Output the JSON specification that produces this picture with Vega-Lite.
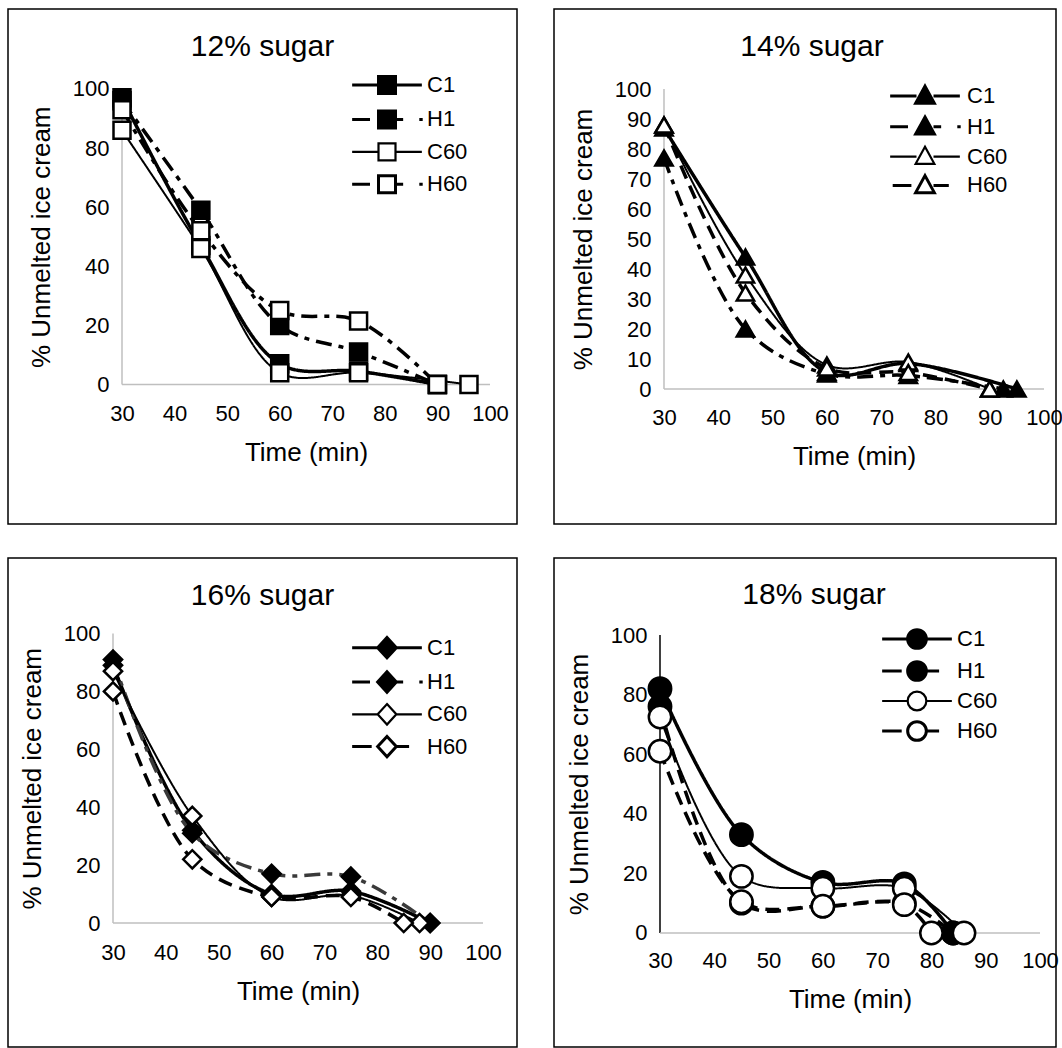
{
  "$schema": "https://vega.github.io/schema/vega-lite/v6.json",
  "padding": {"left": 7, "top": 8, "right": 0, "bottom": 0},
  "background": "white",
  "config": {
    "view": {"stroke": "black", "strokeWidth": 1.5},
    "font": "Liberation Sans",
    "axis": {"labelFont": "Liberation Sans", "titleFont": "Liberation Sans", "labelColor": "black", "titleColor": "black", "titleFontWeight": "normal", "labelFontSize": 22, "titleFontSize": 26, "domain": false, "ticks": false, "grid": false, "labelFlush": false, "labelOverlap": false},
    "legend": {"labelFont": "Liberation Sans", "labelFontSize": 22, "labelColor": "black", "padding": 0, "symbolSize": 289, "symbolStrokeWidth": 3, "symbolStrokeColor": "black"},
    "title": {"font": "Liberation Sans", "fontSize": 30, "fontWeight": "normal", "color": "black"}
  },
  "resolve": {"scale": {"fill": "independent"}, "legend": {"fill": "independent"}},
  "data": {"values": [
    {"panel": "12", "series": "C1", "time": 30, "pct": 97},
    {"panel": "12", "series": "C1", "time": 45, "pct": 47},
    {"panel": "12", "series": "C1", "time": 60, "pct": 7},
    {"panel": "12", "series": "C1", "time": 75, "pct": 4.5},
    {"panel": "12", "series": "C1", "time": 90, "pct": 0},
    {"panel": "12", "series": "H1", "time": 30, "pct": 96},
    {"panel": "12", "series": "H1", "time": 45, "pct": 59},
    {"panel": "12", "series": "H1", "time": 60, "pct": 20},
    {"panel": "12", "series": "H1", "time": 75, "pct": 11},
    {"panel": "12", "series": "H1", "time": 90, "pct": 0},
    {"panel": "12", "series": "C60", "time": 30, "pct": 86},
    {"panel": "12", "series": "C60", "time": 45, "pct": 46},
    {"panel": "12", "series": "C60", "time": 60, "pct": 4},
    {"panel": "12", "series": "C60", "time": 75, "pct": 4},
    {"panel": "12", "series": "C60", "time": 96, "pct": 0},
    {"panel": "12", "series": "H60", "time": 30, "pct": 93},
    {"panel": "12", "series": "H60", "time": 45, "pct": 52},
    {"panel": "12", "series": "H60", "time": 60, "pct": 25},
    {"panel": "12", "series": "H60", "time": 75, "pct": 21.5},
    {"panel": "12", "series": "H60", "time": 90, "pct": 0},

    {"panel": "14", "series": "C1", "time": 30, "pct": 87},
    {"panel": "14", "series": "C1", "time": 45, "pct": 44},
    {"panel": "14", "series": "C1", "time": 60, "pct": 5.5},
    {"panel": "14", "series": "C1", "time": 75, "pct": 8.5},
    {"panel": "14", "series": "C1", "time": 95, "pct": 0},
    {"panel": "14", "series": "H1", "time": 30, "pct": 77},
    {"panel": "14", "series": "H1", "time": 45, "pct": 20},
    {"panel": "14", "series": "H1", "time": 60, "pct": 5},
    {"panel": "14", "series": "H1", "time": 75, "pct": 4.5},
    {"panel": "14", "series": "H1", "time": 92.5, "pct": 0},
    {"panel": "14", "series": "C60", "time": 30, "pct": 88},
    {"panel": "14", "series": "C60", "time": 45, "pct": 38},
    {"panel": "14", "series": "C60", "time": 60, "pct": 8},
    {"panel": "14", "series": "C60", "time": 75, "pct": 9},
    {"panel": "14", "series": "C60", "time": 90, "pct": 0},
    {"panel": "14", "series": "H60", "time": 30, "pct": 88},
    {"panel": "14", "series": "H60", "time": 45, "pct": 32},
    {"panel": "14", "series": "H60", "time": 60, "pct": 7},
    {"panel": "14", "series": "H60", "time": 75, "pct": 5.5},
    {"panel": "14", "series": "H60", "time": 90, "pct": 0},

    {"panel": "16", "series": "C1", "time": 30, "pct": 89},
    {"panel": "16", "series": "C1", "time": 45, "pct": 32},
    {"panel": "16", "series": "C1", "time": 60, "pct": 10},
    {"panel": "16", "series": "C1", "time": 75, "pct": 11},
    {"panel": "16", "series": "C1", "time": 90, "pct": 0},
    {"panel": "16", "series": "H1", "time": 30, "pct": 91},
    {"panel": "16", "series": "H1", "time": 45, "pct": 31},
    {"panel": "16", "series": "H1", "time": 60, "pct": 17},
    {"panel": "16", "series": "H1", "time": 75, "pct": 16},
    {"panel": "16", "series": "H1", "time": 90, "pct": 0},
    {"panel": "16", "series": "C60", "time": 30, "pct": 87},
    {"panel": "16", "series": "C60", "time": 45, "pct": 37},
    {"panel": "16", "series": "C60", "time": 60, "pct": 9},
    {"panel": "16", "series": "C60", "time": 75, "pct": 9.5},
    {"panel": "16", "series": "C60", "time": 88, "pct": 0},
    {"panel": "16", "series": "H60", "time": 30, "pct": 80},
    {"panel": "16", "series": "H60", "time": 45, "pct": 22},
    {"panel": "16", "series": "H60", "time": 60, "pct": 9},
    {"panel": "16", "series": "H60", "time": 75, "pct": 9},
    {"panel": "16", "series": "H60", "time": 85, "pct": 0},

    {"panel": "18", "series": "C1", "time": 30, "pct": 82},
    {"panel": "18", "series": "C1", "time": 45, "pct": 33},
    {"panel": "18", "series": "C1", "time": 60, "pct": 17},
    {"panel": "18", "series": "C1", "time": 75, "pct": 16.5},
    {"panel": "18", "series": "C1", "time": 84, "pct": 0},
    {"panel": "18", "series": "H1", "time": 30, "pct": 76},
    {"panel": "18", "series": "H1", "time": 45, "pct": 10},
    {"panel": "18", "series": "H1", "time": 60, "pct": 9},
    {"panel": "18", "series": "H1", "time": 75, "pct": 10},
    {"panel": "18", "series": "H1", "time": 84, "pct": 0},
    {"panel": "18", "series": "C60", "time": 30, "pct": 72.5},
    {"panel": "18", "series": "C60", "time": 45, "pct": 19},
    {"panel": "18", "series": "C60", "time": 60, "pct": 15},
    {"panel": "18", "series": "C60", "time": 75, "pct": 15},
    {"panel": "18", "series": "C60", "time": 86, "pct": 0},
    {"panel": "18", "series": "H60", "time": 30, "pct": 61},
    {"panel": "18", "series": "H60", "time": 45, "pct": 10.5},
    {"panel": "18", "series": "H60", "time": 60, "pct": 9},
    {"panel": "18", "series": "H60", "time": 75, "pct": 9.5},
    {"panel": "18", "series": "H60", "time": 80, "pct": 0}
  ]},
  "columns": 2,
  "spacing": {"row": 34, "column": 37},
  "bounds": "flush",
  "concat": [
    {
      "width": 509, "height": 515,
      "title": {"text": "12% sugar", "anchor": "middle", "frame": "group", "offset": -76.5, "baseline": "alphabetic"},
      "transform": [{"filter": "datum.panel == '12'"}],
      "layer": [
        {"data": {"values": [{}]}, "mark": {"type": "rule", "color": "#bfbfbf", "strokeWidth": 1.5},
         "encoding": {"x": {"datum": 30, "type": "quantitative"}, "y": {"datum": 0, "type": "quantitative"}, "y2": {"datum": 100}}},
        {"data": {"values": [{}]}, "mark": {"type": "rule", "color": "#bfbfbf", "strokeWidth": 1.5},
         "encoding": {"x": {"datum": 30, "type": "quantitative"}, "x2": {"datum": 100}, "y": {"datum": 0, "type": "quantitative"}}},
        {"mark": {"type": "line", "interpolate": "catmull-rom", "color": "black"},
         "encoding": {
           "x": {"field": "time", "type": "quantitative", "scale": {"domain": [8.315, 105.136], "nice": false, "zero": false},
                 "axis": {"values": [30, 40, 50, 60, 70, 80, 90, 100], "offset": -139.5, "labelPadding": 19, "title": "Time (min)", "titlePadding": 15, "titleX": 298}},
           "y": {"field": "pct", "type": "quantitative", "scale": {"domain": [-47.21, 127.07], "nice": false, "zero": false},
                 "axis": {"values": [0, 20, 40, 60, 80, 100], "offset": -114, "labelPadding": 13, "title": "% Unmelted ice cream", "titlePadding": 18, "titleY": 227.75}},
           "detail": {"field": "series"},
           "strokeDash": {"condition": {"test": "datum.series == 'H1' || datum.series == 'H60'", "value": [16, 7, 5, 7]}, "value": [1, 0]},
           "strokeWidth": {"condition": {"test": "datum.series == 'C60'", "value": 2}, "value": 3.5}
         }},
        {"mark": {"type": "point", "shape": "square", "size": 289, "stroke": "black", "strokeWidth": 2.5, "opacity": 1, "filled": true},
         "encoding": {
           "x": {"field": "time", "type": "quantitative"},
           "y": {"field": "pct", "type": "quantitative"},
           "fill": {"field": "series", "type": "nominal",
                    "scale": {"domain": ["C1", "H1", "C60", "H60"], "range": ["black", "black", "white", "white"]},
                    "legend": {"title": null, "orient": "none", "legendX": 368, "legendY": 65, "labelOffset": 29, "rowPadding": 4.4, "labelFontSize": 22, "symbolSize": 289,
                               "symbolType": {"expr": "(datum.value == 'C1' || datum.value == 'C60' ? 'M-4.1,0H-1M1,0H4.1' : 'M-4.1,0H-2M1,0H1.9M3.8,0H4.2') + 'M-1,-1H1V1H-1Z'"},
                               "symbolStrokeWidth": {"expr": "datum.value == 'C60' ? 2.2 : 3"}}}
         }}
      ]
    },
    {
      "width": 502, "height": 515,
      "title": {"text": "14% sugar", "anchor": "middle", "frame": "group", "offset": -76.5, "baseline": "alphabetic", "dx": 7},
      "transform": [{"filter": "datum.panel == '14'"}],
      "layer": [
        {"data": {"values": [{}]}, "mark": {"type": "rule", "color": "#bfbfbf", "strokeWidth": 1.5},
         "encoding": {"x": {"datum": 30, "type": "quantitative"}, "y": {"datum": 0, "type": "quantitative"}, "y2": {"datum": 100}}},
        {"data": {"values": [{}]}, "mark": {"type": "rule", "color": "#bfbfbf", "strokeWidth": 1.5},
         "encoding": {"x": {"datum": 30, "type": "quantitative"}, "x2": {"datum": 100}, "y": {"datum": 0, "type": "quantitative"}}},
        {"mark": {"type": "line", "interpolate": "catmull-rom", "color": "black"},
         "encoding": {
           "x": {"field": "time", "type": "quantitative", "scale": {"domain": [9.737, 102.211], "nice": false, "zero": false},
                 "axis": {"values": [30, 40, 50, 60, 70, 80, 90, 100], "offset": -135, "labelPadding": 18, "title": "Time (min)", "titlePadding": 15, "titleX": 300}},
           "y": {"field": "pct", "type": "quantitative", "scale": {"domain": [-45, 126.667], "nice": false, "zero": false},
                 "axis": {"values": [0, 10, 20, 30, 40, 50, 60, 70, 80, 90, 100], "offset": -110, "labelPadding": 13, "title": "% Unmelted ice cream", "titlePadding": 18, "titleY": 230}},
           "detail": {"field": "series"},
           "strokeDash": {"condition": [{"test": "datum.series == 'H1'", "value": [16, 7, 5, 7]}, {"test": "datum.series == 'H60'", "value": [14, 8]}], "value": [1, 0]},
           "strokeWidth": {"condition": {"test": "datum.series == 'C60'", "value": 2}, "value": 3.5}
         }},
        {"mark": {"type": "point", "shape": "triangle-up", "size": 300, "stroke": "black", "strokeWidth": 2.5, "opacity": 1, "filled": true},
         "encoding": {
           "x": {"field": "time", "type": "quantitative"},
           "y": {"field": "pct", "type": "quantitative"},
           "fill": {"field": "series", "type": "nominal",
                    "scale": {"domain": ["C1", "H1", "C60", "H60"], "range": ["black", "black", "white", "white"]},
                    "legend": {"title": null, "orient": "none", "legendX": 360, "legendY": 76, "labelOffset": 31, "rowPadding": 0.8, "labelFontSize": 22, "symbolSize": 289,
                               "symbolType": {"expr": "(datum.value == 'C1' || datum.value == 'C60' ? 'M-4.1,0H-1M1,0H4.1' : datum.value == 'H1' ? 'M-4.1,0H-2M1,0H1.9M3.8,0H4.2' : 'M-3.8,0H-1.6M1,0H2.8') + 'M0,-1.15L1.1,0.85H-1.1Z'"},
                               "symbolStrokeWidth": {"expr": "datum.value == 'C60' ? 2.2 : 3"}}}
         }}
      ]
    },
    {
      "width": 509, "height": 489,
      "title": {"text": "16% sugar", "anchor": "middle", "frame": "group", "offset": -77, "baseline": "alphabetic"},
      "transform": [{"filter": "datum.panel == '16'"}],
      "layer": [
        {"data": {"values": [{}]}, "mark": {"type": "rule", "color": "#bfbfbf", "strokeWidth": 1.5},
         "encoding": {"x": {"datum": 30, "type": "quantitative"}, "y": {"datum": 0, "type": "quantitative"}, "y2": {"datum": 100}}},
        {"data": {"values": [{}]}, "mark": {"type": "rule", "color": "#bfbfbf", "strokeWidth": 1.5},
         "encoding": {"x": {"datum": 30, "type": "quantitative"}, "x2": {"datum": 100}, "y": {"datum": 0, "type": "quantitative"}}},
        {"mark": {"type": "line", "interpolate": "catmull-rom"},
         "encoding": {
           "x": {"field": "time", "type": "quantitative", "scale": {"domain": [10.135, 106.432], "nice": false, "zero": false},
                 "axis": {"values": [30, 40, 50, 60, 70, 80, 90, 100], "offset": -124, "labelPadding": 19, "title": "Time (min)", "titlePadding": 15, "titleX": 290}},
           "y": {"field": "pct", "type": "quantitative", "scale": {"domain": [-42.83, 126.08], "nice": false, "zero": false},
                 "axis": {"values": [0, 20, 40, 60, 80, 100], "offset": -105, "labelPadding": 13, "title": "% Unmelted ice cream", "titlePadding": 18, "titleY": 220.25}},
           "detail": {"field": "series"},
           "color": {"condition": {"test": "datum.series == 'H1'", "value": "#3a3a3a"}, "value": "black"},
           "strokeDash": {"condition": [{"test": "datum.series == 'H1'", "value": [16, 7, 5, 7]}, {"test": "datum.series == 'H60'", "value": [14, 8]}], "value": [1, 0]},
           "strokeWidth": {"condition": {"test": "datum.series == 'C60'", "value": 2}, "value": 3.5}
         }},
        {"mark": {"type": "point", "shape": "diamond", "size": 330, "stroke": "black", "strokeWidth": 2.5, "opacity": 1, "filled": true},
         "encoding": {
           "x": {"field": "time", "type": "quantitative"},
           "y": {"field": "pct", "type": "quantitative"},
           "fill": {"field": "series", "type": "nominal",
                    "scale": {"domain": ["C1", "H1", "C60", "H60"], "range": ["black", "black", "white", "white"]},
                    "legend": {"title": null, "orient": "none", "legendX": 368, "legendY": 78.7, "labelOffset": 29, "rowPadding": 0.3, "labelFontSize": 22, "symbolSize": 289,
                               "symbolType": {"expr": "(datum.value == 'C1' || datum.value == 'C60' ? 'M-4.1,0H-1.1M1.1,0H4.1' : datum.value == 'H1' ? 'M-4.1,0H-2M1.1,0H1.9M3.8,0H4.2' : 'M-4.1,0H-1.8M1.1,0H2.6') + 'M0,-1.2L1.1,0L0,1.2L-1.1,0Z'"},
                               "symbolStrokeWidth": {"expr": "datum.value == 'C60' ? 2.2 : 3"}}}
         }}
      ]
    },
    {
      "width": 502, "height": 489,
      "title": {"text": "18% sugar", "anchor": "middle", "frame": "group", "offset": -76, "baseline": "alphabetic", "dx": 9},
      "transform": [{"filter": "datum.panel == '18'"}],
      "layer": [
        {"data": {"values": [{}]}, "mark": {"type": "rule", "color": "black", "strokeWidth": 1.5},
         "encoding": {"x": {"datum": 30, "type": "quantitative"}, "y": {"datum": 0, "type": "quantitative"}, "y2": {"datum": 100}}},
        {"data": {"values": [{}]}, "mark": {"type": "rule", "color": "#bfbfbf", "strokeWidth": 1.5},
         "encoding": {"x": {"datum": 30, "type": "quantitative"}, "x2": {"datum": 100}, "y": {"datum": 0, "type": "quantitative"}}},
        {"mark": {"type": "line", "interpolate": "catmull-rom", "color": "black"},
         "encoding": {
           "x": {"field": "time", "type": "quantitative", "scale": {"domain": [10.474, 102.947], "nice": false, "zero": false},
                 "axis": {"values": [30, 40, 50, 60, 70, 80, 90, 100], "offset": -114, "labelPadding": 17, "title": "Time (min)", "titlePadding": 15, "titleX": 296}},
           "y": {"field": "pct", "type": "quantitative", "scale": {"domain": [-38.26, 125.84], "nice": false, "zero": false},
                 "axis": {"values": [0, 20, 40, 60, 80, 100], "offset": -106, "labelPadding": 13, "title": "% Unmelted ice cream", "titlePadding": 18, "titleY": 226}},
           "detail": {"field": "series"},
           "strokeDash": {"condition": {"test": "datum.series == 'H1' || datum.series == 'H60'", "value": [14, 8]}, "value": [1, 0]},
           "strokeWidth": {"condition": {"test": "datum.series == 'C60'", "value": 2}, "value": 3.5}
         }},
        {"mark": {"type": "point", "shape": "circle", "size": 500, "stroke": "black", "strokeWidth": 2.5, "opacity": 1, "filled": true},
         "encoding": {
           "x": {"field": "time", "type": "quantitative"},
           "y": {"field": "pct", "type": "quantitative"},
           "fill": {"field": "series", "type": "nominal",
                    "scale": {"domain": ["C1", "H1", "C60", "H60"], "range": ["black", "black", "white", "white"]},
                    "legend": {"title": null, "orient": "none", "legendX": 352, "legendY": 70, "labelOffset": 29, "rowPadding": 0, "labelFontSize": 22, "symbolSize": 289,
                               "symbolType": {"expr": "(datum.value == 'C1' || datum.value == 'C60' ? 'M-4.1,0H-1.1M1.1,0H4.1' : 'M-4.1,0H-1.8M1.1,0H2.6') + 'M-1.1,0A1.1,1.1,0,1,1,1.1,0A1.1,1.1,0,1,1,-1.1,0Z'"},
                               "symbolStrokeWidth": {"expr": "datum.value == 'C60' ? 2.2 : 3"}}}
         }}
      ]
    }
  ]
}
